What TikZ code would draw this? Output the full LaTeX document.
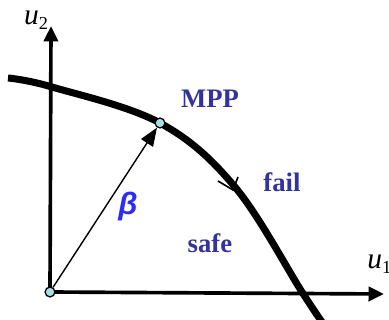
\documentclass[tikz,border=0pt]{standalone}
\usepackage{fontspec}
\setmainfont{Liberation Serif}
\newfontfamily\betafont{Liberation Sans}
\usetikzlibrary{arrows.meta}
\definecolor{labelblue}{RGB}{51,51,153}
\definecolor{betablue}{RGB}{45,45,250}
\definecolor{pointfill}{RGB}{170,220,225}
\newcommand{\axisvar}[2]{\textit{#1}\raisebox{-0.35ex}{\fontsize{13}{14}\selectfont #2}}

\begin{document}
\begin{tikzpicture}[
  x=0.025cm, y=-0.025cm,
  axis/.style={line width=2.6pt, -{Triangle[length=11pt, width=10pt]}},
  limit/.style={line width=5pt},
  point/.style={circle, draw, line width=0.9pt, fill=pointfill, minimum size=7pt, inner sep=0pt},
  region/.style={font=\fontsize{19}{22}\selectfont\bfseries, text=labelblue},
  axislabel/.style={font=\fontsize{21}{24}\selectfont, inner sep=0pt}
]
\useasboundingbox (0,0) rectangle (389,320);

% axes
\coordinate (o) at (50,292);
\coordinate (yend) at (51,26);
\coordinate (xend) at (384,294);
\draw[axis] (o) -- (yend);
\draw[axis] (o) -- (xend);
\node[axislabel] (u2) at (36,20) {\axisvar{u}{2}};
\node[axislabel, anchor=west] (u1) at (367,264) {\axisvar{u}{1}};

% limit state curve
\coordinate (mppc) at (160,123);
\draw[limit] plot[smooth, tension=0.6] coordinates {(8,78) (52,87) (mppc) (235,187) (302,292) (322,322)};

% tick on the curve
\coordinate (tka) at (218,181);
\coordinate (tkb) at (233,190);
\coordinate (tkc) at (238,177);
\draw[line width=1.2pt] (tka) -- (tkb) -- (tkc);

% points and reliability index
\node[point] (orig) at (o) {};
\node[point] (mpp) at (mppc) {};
\draw[line width=1pt, -{Triangle[length=13pt, width=10pt]}] (orig) -- (mpp);

% labels
\node[text=betablue, font=\fontsize{22}{24}\selectfont\betafont\bfseries\itshape] (beta) at (128,207) {β};
\node[region] (mpplbl) at (210,99) {MPP};
\node[region] (fail) at (282,182) {fail};
\node[region] (safe) at (210,243) {safe};
\end{tikzpicture}
\end{document}
